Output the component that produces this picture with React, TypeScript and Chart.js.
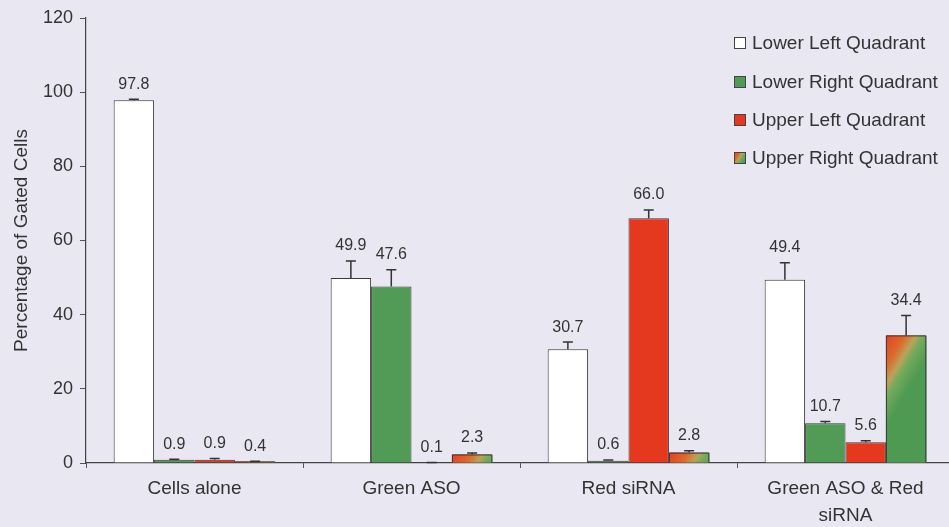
import React, { useEffect, useRef } from "react";
import { Chart, registerables } from "chart.js";

Chart.register(...registerables);

const categories: (string | string[])[] = ["Cells alone", "Green ASO", "Red siRNA", ["Green ASO & Red", "siRNA"]];
const seriesNames = ["Lower Left Quadrant", "Lower Right Quadrant", "Upper Left Quadrant", "Upper Right Quadrant"];
const lowerLeft = [97.8, 49.9, 30.7, 49.4];
const lowerRight = [0.9, 47.6, 0.6, 10.7];
const upperLeft = [0.9, 0.1, 66.0, 5.6];
const upperRight = [0.4, 2.3, 2.8, 34.4];
const errLowerLeft = [0.3, 4.6, 1.9, 4.6];
const errLowerRight = [0.1, 4.5, 0.2, 0.5];
const errUpperLeft = [0.3, 0.05, 2.2, 0.4];
const errUpperRight = [0.1, 0.4, 0.5, 5.4];
const yTicks = [0, 20, 40, 60, 80, 100, 120];

const errors = [errLowerLeft, errLowerRight, errUpperLeft, errUpperRight];
const fills = ["#ffffff", "#519b57", "#e5391f", "#b06a30"];
const TEXT = "#333333";
const FONT = "'Liberation Sans', Arial, sans-serif";

function urGradient(ctx: CanvasRenderingContext2D, left: number, top: number, w: number) {
  const g = ctx.createLinearGradient(left, top, left + w, top + w * 0.6);
  g.addColorStop(0, "#e3402a");
  g.addColorStop(0.35, "#dc6a2c");
  g.addColorStop(0.55, "#b9a35a");
  g.addColorStop(0.7, "#72aa5c");
  g.addColorStop(1, "#4f9a52");
  return g;
}

const bgPlugin = {
  id: "bg",
  beforeDraw(chart: any) {
    const ctx = chart.ctx;
    ctx.save();
    ctx.fillStyle = "#e8e7f2";
    ctx.fillRect(0, 0, chart.width, chart.height);
    ctx.restore();
  },
};

const extrasPlugin = {
  id: "extras",
  afterDatasetsDraw(chart: any) {
    const ctx: CanvasRenderingContext2D = chart.ctx;
    const yScale = chart.scales.y;
    const meta3 = chart.getDatasetMeta(3);
    meta3.data.forEach((el: any) => {
      const { x, y, base, width } = el.getProps(["x", "y", "base", "width"], true);
      const left = x - width / 2;
      ctx.save();
      ctx.fillStyle = urGradient(ctx, left, y, width);
      ctx.fillRect(left, y, width, base - y);
      ctx.strokeStyle = "#3a3a3a";
      ctx.lineWidth = 1;
      ctx.beginPath();
      ctx.moveTo(left + 0.5, base);
      ctx.lineTo(left + 0.5, y + 0.5);
      ctx.lineTo(left + width - 0.5, y + 0.5);
      ctx.lineTo(left + width - 0.5, base);
      ctx.stroke();
      ctx.restore();
    });
    chart.data.datasets.forEach((ds: any, di: number) => {
      const meta = chart.getDatasetMeta(di);
      meta.data.forEach((el: any, i: number) => {
        const { x, y } = el.getProps(["x", "y"], true);
        const v = ds.data[i];
        const e = errors[di][i];
        const yTop = yScale.getPixelForValue(v + e);
        ctx.save();
        ctx.strokeStyle = "#333333";
        ctx.lineWidth = 1.5;
        ctx.beginPath();
        ctx.moveTo(x, y);
        ctx.lineTo(x, yTop);
        ctx.moveTo(x - 5, yTop);
        ctx.lineTo(x + 5, yTop);
        ctx.stroke();
        ctx.fillStyle = TEXT;
        ctx.font = `16px ${FONT}`;
        ctx.textAlign = "center";
        ctx.textBaseline = "middle";
        ctx.fillText(v.toFixed(1), x, yTop - 15);
        ctx.restore();
      });
    });
  },
  afterDraw(chart: any) {
    const ctx: CanvasRenderingContext2D = chart.ctx;
    const boxX = 734;
    const textX = 752;
    const rows = [43, 82, 120, 158];
    ctx.save();
    ctx.font = `19px ${FONT}`;
    ctx.textBaseline = "middle";
    ctx.textAlign = "left";
    seriesNames.forEach((name, i) => {
      const cy = rows[i];
      const top = cy - 6;
      if (i === 3) {
        ctx.fillStyle = urGradient(ctx, boxX, top, 12);
      } else {
        ctx.fillStyle = fills[i];
      }
      ctx.fillRect(boxX, top, 12, 12);
      ctx.strokeStyle = "#444444";
      ctx.lineWidth = 1;
      ctx.strokeRect(boxX + 0.5, top + 0.5, 11, 11);
      ctx.fillStyle = TEXT;
      ctx.fillText(name, textX, cy + 1);
    });
    ctx.restore();
  },
};

export default function App() {
  const ref = useRef<HTMLCanvasElement | null>(null);
  useEffect(() => {
    if (!ref.current) return;
    const seriesData = [lowerLeft, lowerRight, upperLeft, upperRight];
    const chart = new Chart(ref.current, {
      type: "bar",
      data: {
        labels: categories,
        datasets: seriesData.map((d, i) => ({
          label: seriesNames[i],
          data: d,
          backgroundColor: fills[i],
          borderColor: "#3a3a3a",
          borderWidth: 1,
          categoryPercentage: 0.745,
          barPercentage: 1.0,
        })),
      },
      options: {
        animation: false,
        responsive: false,
        maintainAspectRatio: false,
        layout: { padding: { top: 18, right: 2, left: 0, bottom: 0 } },
        plugins: {
          legend: { display: false },
          tooltip: { enabled: false },
        },
        scales: {
          x: {
            grid: { drawOnChartArea: false, drawTicks: true, tickLength: 5, color: "#555555", offset: true },
            border: { color: "#444444", width: 1.2 },
            ticks: { color: TEXT, font: { size: 19, family: FONT, lineHeight: 1.42 }, padding: 7, maxRotation: 0, autoSkip: false },
            afterFit: (s: any) => { s.height = 64; },
          },
          y: {
            min: 0,
            max: 120,
            afterBuildTicks: (s: any) => { s.ticks = yTicks.map((v) => ({ value: v })); },
            grid: { drawOnChartArea: false, drawTicks: true, tickLength: 6, color: "#555555" },
            border: { color: "#444444", width: 1.2 },
            ticks: { color: TEXT, font: { size: 18, family: FONT }, padding: 7 },
            title: {
              display: true,
              text: "Percentage of Gated Cells",
              color: TEXT,
              font: { size: 19, family: FONT },
              padding: { top: 10, bottom: 0 },
            },
            afterFit: (s: any) => { s.width = 86; },
          },
        },
      },
      plugins: [bgPlugin, extrasPlugin],
    });
    return () => chart.destroy();
  }, []);
  return (
    <div style={{ position: "absolute", left: 0, top: 0, width: 949, height: 527, overflow: "hidden", background: "#e8e7f2" }}>
      <canvas ref={ref} width={956} height={527} style={{ display: "block" }} />
    </div>
  );
}
